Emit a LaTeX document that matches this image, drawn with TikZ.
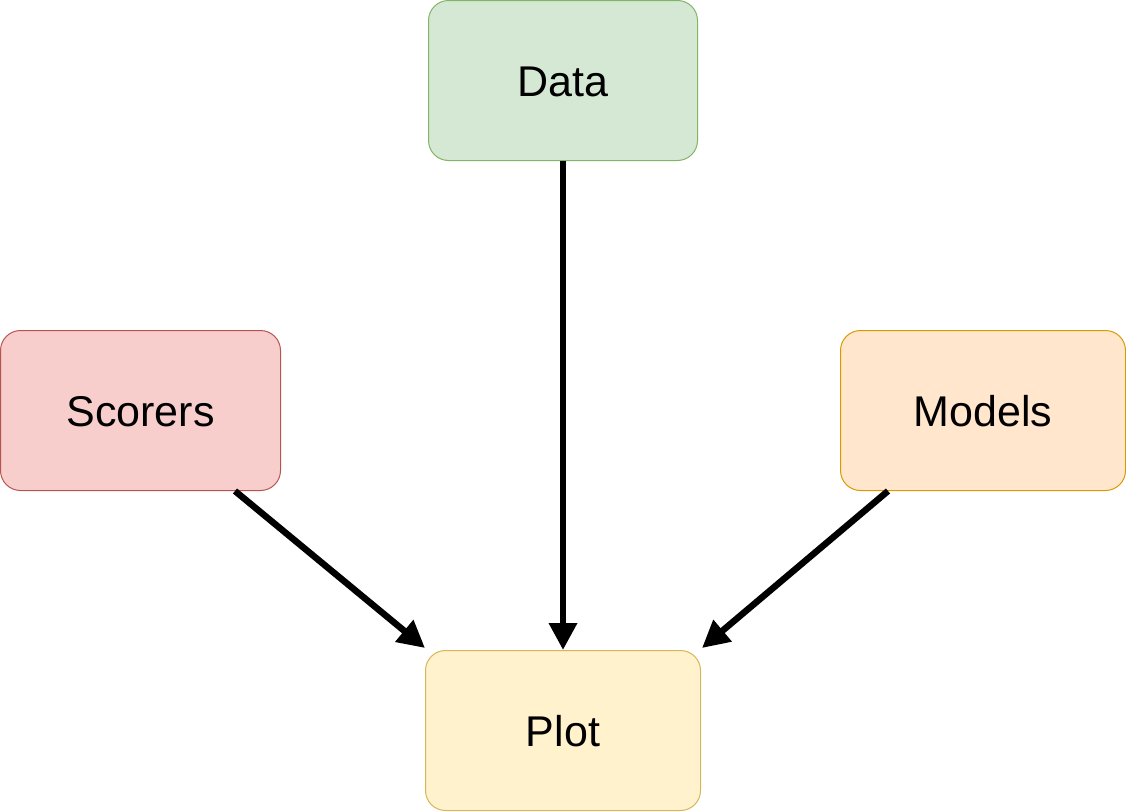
\documentclass[tikz,border=0pt]{standalone}
\usepackage{fontspec}
\setmainfont{Liberation Sans}
\usetikzlibrary{arrows.meta}
\definecolor{gfill}{HTML}{D5E8D4}\definecolor{gdraw}{HTML}{82B366}
\definecolor{rfill}{HTML}{F8CECC}\definecolor{rdraw}{HTML}{B85450}
\definecolor{ofill}{HTML}{FFE6CC}\definecolor{odraw}{HTML}{D79B00}
\definecolor{yfill}{HTML}{FFF2CC}\definecolor{ydraw}{HTML}{D6B656}
\tikzset{
  boxshape/.style={rounded corners=20pt, line width=1pt},
  lbl/.style={anchor=base, inner sep=0pt, font=\fontsize{43}{50}\selectfont},
  conn/.style={line width=6.5pt, -{Triangle[length=27pt,width=27pt]}, shorten >=0pt}
}
\begin{document}
\begin{tikzpicture}[x=1pt,y=-1pt]
\useasboundingbox (0,0) rectangle (1126,811);
% boxes
\draw[boxshape, fill=gfill, draw=gdraw] (428.5,0.5) rectangle (697.5,160.5);
\draw[boxshape, fill=rfill, draw=rdraw] (0.5,330.5) rectangle (280.5,490.5);
\draw[boxshape, fill=ofill, draw=odraw] (840.5,330.5) rectangle (1125.5,490.5);
\draw[boxshape, fill=yfill, draw=ydraw] (425.5,650.5) rectangle (700.5,810.5);
% labels
\node[lbl] (data) at (563,96) {Data};
\node[lbl] (scorers) at (140.5,426) {Scorers};
\node[lbl] (models) at (983,426) {Models};
\node[lbl] (plot) at (563,746) {Plot};
% anchor coordinates
\coordinate (dataS) at (563,160.5);
\coordinate (scorersS) at (235,491);
\coordinate (modelsS) at (888,491);
\coordinate (plotN) at (563,650);
\coordinate (plotNW) at (425,648);
\coordinate (plotNE) at (702,648);
% connectors
\draw[conn] (dataS) -- (plotN);
\draw[conn] (scorersS) -- (plotNW);
\draw[conn] (modelsS) -- (plotNE);
\end{tikzpicture}
\end{document}
